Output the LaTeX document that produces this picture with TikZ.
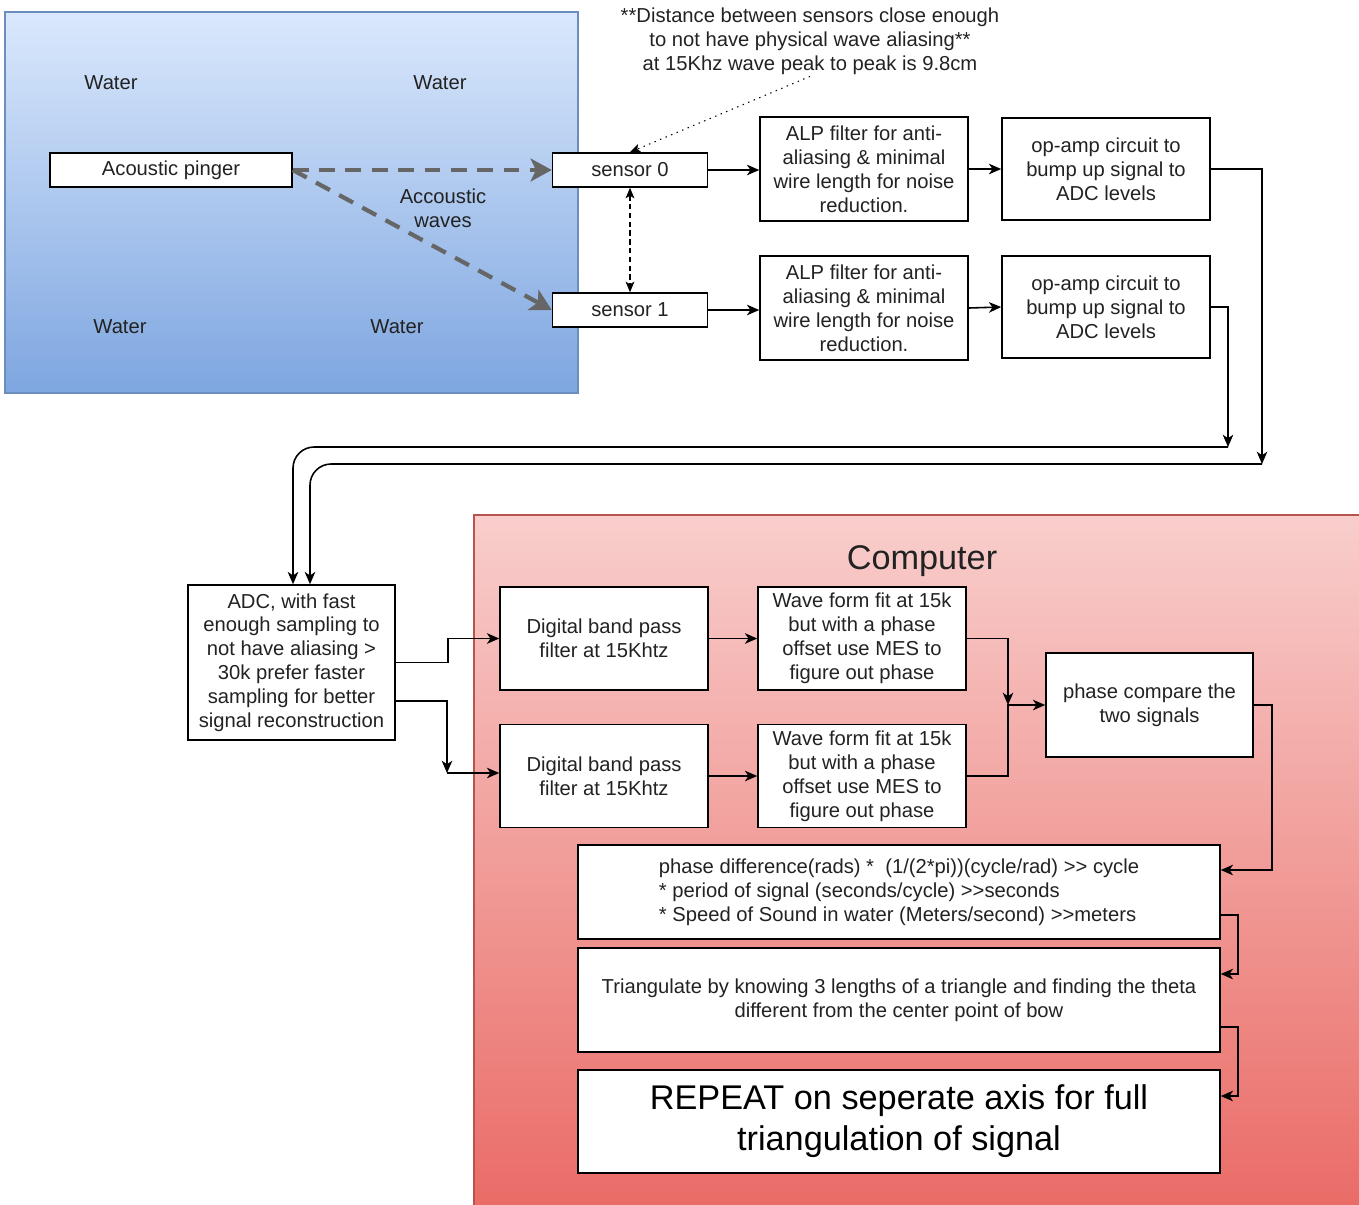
\documentclass[tikz,border=0pt]{standalone}
\usepackage{fontspec}
\setmainfont{Liberation Sans}
\usetikzlibrary{calc}
\usetikzlibrary{arrows.meta}

\definecolor{waterTop}{HTML}{DAE8FC}
\definecolor{waterBot}{HTML}{7EA6E0}
\definecolor{waterLine}{HTML}{6C8EBF}
\definecolor{compTop}{HTML}{F8CECC}
\definecolor{compBot}{HTML}{EA6B66}
\definecolor{compLine}{HTML}{B85450}
\definecolor{waveGray}{HTML}{666666}
\definecolor{inkGray}{HTML}{222222}

\tikzset{
	txt/.style={font=\fontsize{11.5}{13.6}\selectfont, text=inkGray, align=center, inner sep=1pt},
	box/.style={txt, rectangle, draw=black, fill=white, line width=0.9pt, inner sep=2pt},
	flow/.style={-{Stealth[length=7pt, width=6pt, inset=2pt]}, line width=0.9pt},
	wave/.style={-{Stealth[length=12pt, width=13pt, inset=3pt]}, draw=waveGray, line width=2.4pt, dash pattern=on 9pt off 6pt},
	hint/.style={-{Stealth[length=6pt, width=5pt, inset=1.5pt]}, line width=0.6pt, dash pattern=on 0.8pt off 2.6pt},
	gap/.style={{Stealth[length=6pt, width=5pt, inset=1.5pt]}-{Stealth[length=6pt, width=5pt, inset=1.5pt]}, line width=0.6pt, dash pattern=on 3pt off 2pt}
}

\begin{document}
\begin{tikzpicture}[x=0.02cm, y=-0.02cm]

	\useasboundingbox (0,0) rectangle (1359,1204);

	% the two regions
	\path[draw=waterLine, line width=0.6pt, top color=waterTop, bottom color=waterBot] (5,12) rectangle (578,393);
	\path[draw=compLine, line width=0.6pt, top color=compTop, bottom color=compBot] (474,515) rectangle (1365,1210);

	\node[txt] (water1) at (111,83) {Water};
	\node[txt] (water2) at (440,83) {Water};
	\node[txt] (water3) at (120,327) {Water};
	\node[txt] (water4) at (397,327) {Water};

	\node[txt, font=\fontsize{19.5}{23.4}\selectfont] (title) at (922,561) {Computer};

	% front end
	\node[box, minimum width=4.84cm, minimum height=0.68cm] (pinger) at (171,170) {Acoustic pinger};
	\node[box, minimum width=3.1cm, minimum height=0.68cm] (sens0) at (630,170) {sensor 0};
	\node[box, minimum width=3.1cm, minimum height=0.68cm] (sens1) at (630,310) {sensor 1};
	\node[txt] (waves) at (443,208) {Accoustic\\waves};

	\node[txt] (note) at (810,41) {**Distance between sensors close enough\\to not have physical wave aliasing**\\at 15Khz wave peak to peak is 9.8cm};

	\node[box, minimum width=4.16cm, minimum height=2.08cm] (alp0) at (864,169) {ALP filter for anti-\\aliasing \& minimal\\wire length for noise\\reduction.};
	\node[box, minimum width=4.16cm, minimum height=2.04cm] (amp0) at (1106,169) {op-amp circuit to\\bump up signal to\\ADC levels};
	\node[box, minimum width=4.16cm, minimum height=2.08cm] (alp1) at (864,308) {ALP filter for anti-\\aliasing \& minimal\\wire length for noise\\reduction.};
	\node[box, minimum width=4.16cm, minimum height=2.04cm] (amp1) at (1106,307) {op-amp circuit to\\bump up signal to\\ADC levels};

	% back end
	\node[box, minimum width=4.14cm, minimum height=3.1cm] (adc) at (291.5,662.5) {ADC, with fast\\enough sampling to\\not have aliasing >\\30k prefer faster\\sampling for better\\signal reconstruction};

	\node[box, minimum width=4.16cm, minimum height=2.06cm] (bpf0) at (604,638.5) {Digital band pass\\filter at 15Khtz};
	\node[box, minimum width=4.16cm, minimum height=2.06cm] (bpf1) at (604,776) {Digital band pass\\filter at 15Khtz};
	\node[box, minimum width=4.16cm, minimum height=2.06cm] (fit0) at (862,638.5) {Wave form fit at 15k\\but with a phase\\offset use MES to\\figure out phase};
	\node[box, minimum width=4.16cm, minimum height=2.06cm] (fit1) at (862,776) {Wave form fit at 15k\\but with a phase\\offset use MES to\\figure out phase};
	\node[box, minimum width=4.14cm, minimum height=2.08cm] (cmp) at (1149.5,705) {phase compare the\\two signals};

	\node[box, align=left, minimum width=12.84cm, minimum height=1.88cm] (diff) at (899,892) {phase difference(rads) *\ \ (1/(2*pi))(cycle/rad) >{}> cycle\\* period of signal (seconds/cycle) >{}>seconds\\* Speed of Sound in water (Meters/second) >{}>meters};
	\node[box, minimum width=12.84cm, minimum height=2.08cm] (tri) at (899,1000) {Triangulate by knowing 3 lengths of a triangle and finding the theta\\different from the center point of bow};
	\node[box, font=\fontsize{19.5}{23.4}\selectfont, text=black, minimum width=12.84cm, minimum height=2.06cm] (rep) at (899,1121.5) {REPEAT on seperate axis for full\\triangulation of signal};

	% sound in the water
	\draw[wave] (pinger.east) -- (sens0.west);
	\draw[wave] (pinger.east) -- (sens1.west);
	\draw[hint] (note.south) -- (sens0.north);
	\draw[gap] (sens0.south) -- (sens1.north);

	% analog chain
	\draw[flow] (sens0.east) -- (sens0.east -| alp0.west);
	\draw[flow] (alp0.east) -- (amp0.west);
	\draw[flow] (sens1.east) -- (sens1.east -| alp1.west);
	\draw[flow] (alp1.east) -- (amp1.west);

	\coordinate (drop1) at (1228,447);
	\coordinate (drop0) at (1262,464);
	\draw[flow] (amp1.east) -| (drop1);
	\draw[flow] (amp0.east) -| (drop0);
	\draw[flow, rounded corners=12pt] (drop1) -| ([xshift=0.03cm]adc.north);
	\draw[flow, rounded corners=12pt] (drop0) -| ([xshift=0.37cm]adc.north);

	% digital chain
	\coordinate (split) at (447,773);
	\draw[flow] (adc.east) -- ++(52,0) |- (bpf0.west);
	\draw[flow] ([yshift=-0.77cm]adc.east) -| (split);
	\draw[flow] (split) -- (split -| bpf1.west);
	\draw[flow] (bpf0.east) -- (fit0.west);
	\draw[flow] (bpf1.east) -- (fit1.west);

	\coordinate (merge) at (1008,705);
	\draw[flow] (fit0.east) -| (merge);
	\draw[flow] (fit1.east) -| (merge) -- (cmp.west);

	\draw[flow] (cmp.east) -- ++(18,0) |- ([yshift=0.44cm]diff.east);
	\draw[flow] ([yshift=-0.46cm]diff.east) -- ++(17,0) |- ([yshift=0.52cm]tri.east);
	\draw[flow] ([yshift=-0.54cm]tri.east) -- ++(17,0) |- ([yshift=0.51cm]rep.east);

\end{tikzpicture}
\end{document}
